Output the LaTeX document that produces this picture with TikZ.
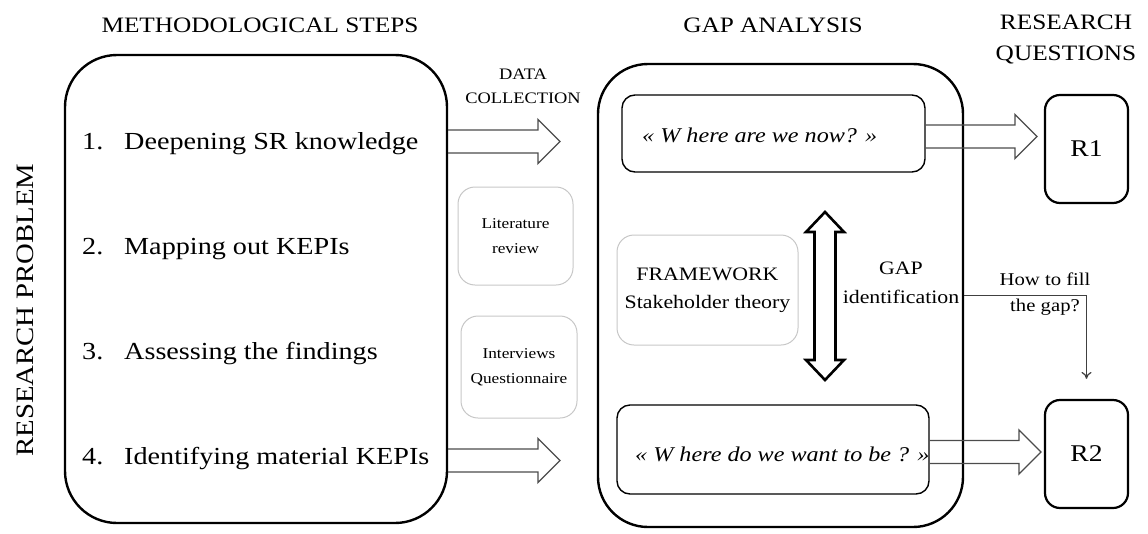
\documentclass[tikz,border=0pt]{standalone}
\usepackage{fontspec}
\setmainfont{Liberation Serif}[FakeStretch=1.15]
\usetikzlibrary{calc,arrows.meta}

\tikzset{
	bigbox/.style={draw, line width=2.4pt, rounded corners=52pt},
	qbox/.style={draw, line width=1.4pt, rounded corners=13pt},
	rbox/.style={draw, line width=2.2pt, rounded corners=15pt, font=\fontsize{24}{28}\selectfont},
	greybox/.style={draw=black!22, line width=1pt, rounded corners=17pt, align=center},
	hollow/.style={draw=black!70, line width=1.3pt, line join=miter},
	title/.style={font=\fontsize{22}{31}\selectfont, align=center},
	steptext/.style={font=\fontsize{24.5}{29}\selectfont, inner sep=0pt, anchor=base west},
	qtext/.style={font=\fontsize{21}{25}\selectfont\itshape, inner sep=0pt, anchor=base west},
}

% open block arrow from the side of #1 to the tip #2
\newcommand{\blockarrow}[2]{%
	\draw[hollow] ($(#1 |- #2)+(0,-11.5)$) -- ($(#2)+(-22,-11.5)$) -- ($(#2)+(-22,-22)$)
		-- (#2) -- ($(#2)+(-22,22)$) -- ($(#2)+(-22,11.5)$) -- ($(#1 |- #2)+(0,11.5)$);}

\begin{document}
\begin{tikzpicture}[x=1pt, y=-1pt]
	\useasboundingbox (0,0) rectangle (1148,533);
	
	%headings
	\node[title] (mhead) at (260,25){METHODOLOGICAL STEPS};
	\node[title] (ghead) at (773,25){GAP ANALYSIS};
	\node[title] (rhead) at (1066,39){RESEARCH\\QUESTIONS};
	\node[title, font=\fontsize{25}{30}\selectfont, rotate=90] (problem) at (25,310){RESEARCH PROBLEM};
	
	%methodological steps
	\node[bigbox, minimum width=382pt, minimum height=468pt] (steps) at (256,289){};
	\foreach \n/\txt in {1/Deepening SR knowledge, 2/Mapping out KEPIs, 3/Assessing the findings, 4/Identifying material KEPIs}{
		\node[steptext] (n\n) at (82, 44+105*\n){\n.};
		\node[steptext] (s\n) at (124, 44+105*\n){\txt};
	}
	
	%data collection
	\node[font=\fontsize{16}{24}\selectfont, align=center] (data) at (523,86){DATA\\COLLECTION};
	\node[greybox, minimum width=115pt, minimum height=98pt, font=\fontsize{15}{25}\selectfont] (lit) at (515.5,236){Literature\\review};
	\node[greybox, minimum width=116pt, minimum height=102pt, font=\fontsize{15}{25}\selectfont] (inter) at (519,367){Interviews\\Questionnaire};
	
	%gap analysis
	\node[bigbox, rounded corners=50pt, minimum width=365pt, minimum height=463pt] (gap) at (780.5,295.5){};
	\node[qbox, minimum width=303pt, minimum height=77pt] (now) at (773.5,133.5){};
	\node[qtext] (nowtxt) at (642,142){« W here are we now? »};
	\node[qbox, minimum width=312pt, minimum height=89pt] (want) at (773,449.5){};
	\node[qtext] (wanttxt) at (635,461){« W here do we want to be ? »};
	\node[greybox, minimum width=181pt, minimum height=110pt, font=\fontsize{19}{28}\selectfont] (frame) at (707.5,290){FRAMEWORK\\Stakeholder theory};
	\node[font=\fontsize{19}{29}\selectfont, align=center] (gapid) at (901,283){GAP\\identification};
	
	%double arrow between now and want
	\draw[line width=2.6pt, line join=miter] (825,212) -- (844,232) -- (835.5,232) -- (835.5,360) -- (844,360)
		-- (825,380) -- (806,360) -- (814.5,360) -- (814.5,232) -- (806,232) -- cycle;
	
	%research questions
	\node[rbox, minimum width=83pt, minimum height=108pt] (r1) at (1086.5,149){R1};
	\node[rbox, minimum width=83pt, minimum height=108pt] (r2) at (1086.5,454){R2};
	\node[font=\fontsize{18}{26}\selectfont, align=center] (fill) at (1045,294){How to fill\\the gap?};
	\draw[black!75, line width=1.2pt, -{To[length=7pt,width=10pt]}, shorten >=20pt] (gap.east) -| (r2.north);
	
	%block arrows
	\coordinate (tipa) at (560,141.5);
	\coordinate (tipb) at (560,460.5);
	\coordinate (tipc) at (1037,136.5);
	\coordinate (tipd) at (1041,452);
	\blockarrow{steps.east}{tipa}
	\blockarrow{steps.east}{tipb}
	\blockarrow{now.east}{tipc}
	\blockarrow{want.east}{tipd}
\end{tikzpicture}
\end{document}
